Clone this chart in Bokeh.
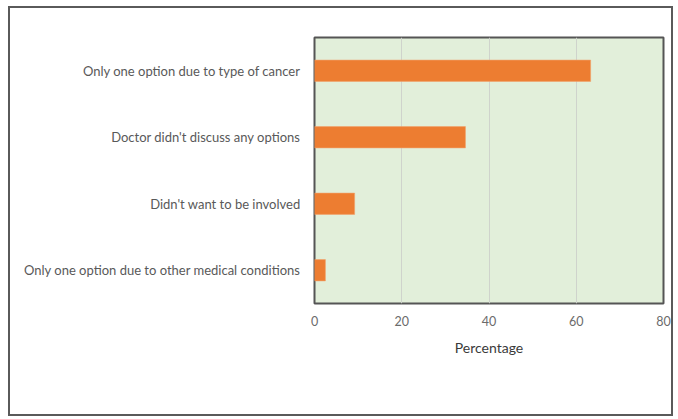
from bokeh.plotting import figure
from bokeh.models import FactorRange, Range1d, FixedTicker
from bokeh.embed import file_html
from bokeh.resources import INLINE

categories = [
    "Only one option due to type of cancer",
    "Doctor didn't discuss any options",
    "Didn't want to be involved",
    "Only one option due to other medical conditions",
]
values = [63.3, 34.6, 9.2, 2.5]
x_ticks = [0, 20, 40, 60, 80]

p = figure(
    y_range=FactorRange(factors=categories[::-1]),
    x_range=Range1d(0, 80),
    width=665, height=410,
    min_border_left=304, min_border_top=29, min_border_right=12, min_border_bottom=115,
    output_backend="svg", toolbar_location=None,
)
p.styles = {"border": "2px solid #5a5a5a", "margin-left": "8px", "margin-top": "6px"}

p.hbar(y=categories, right=values, left=0, height=0.32, color="#ED7D31", line_color="#F2A36B", line_width=0.6)

p.background_fill_color = "#E2EFDA"
p.border_fill_color = "white"
p.outline_line_color = "#555555"
p.outline_line_width = 2

p.xgrid.grid_line_color = "#CFD3CC"
p.xgrid.grid_line_width = 1
p.ygrid.grid_line_color = None

p.xaxis.ticker = FixedTicker(ticks=x_ticks)
p.xaxis.axis_line_color = None
p.xaxis.major_tick_line_color = None
p.xaxis.minor_tick_line_color = None
p.xaxis.major_label_text_font = "Lato"
p.xaxis.major_label_text_font_size = "12.5px"
p.xaxis.major_label_text_color = "#6b6b6b"
p.xaxis.major_label_standoff = 6
p.xaxis.axis_label = "Percentage"
p.xaxis.axis_label_text_font = "Lato"
p.xaxis.axis_label_text_font_style = "normal"
p.xaxis.axis_label_text_font_size = "14px"
p.xaxis.axis_label_text_color = "#3a3a3a"
p.xaxis.axis_label_standoff = 10

p.yaxis.axis_line_color = None
p.yaxis.major_tick_line_color = None
p.yaxis.minor_tick_line_color = None
p.yaxis.major_label_text_font = "Lato"
p.yaxis.major_label_text_font_size = "13px"
p.yaxis.major_label_text_color = "#595959"
p.yaxis.major_label_standoff = 8

open("out.html", "w").write(file_html(p, INLINE))
